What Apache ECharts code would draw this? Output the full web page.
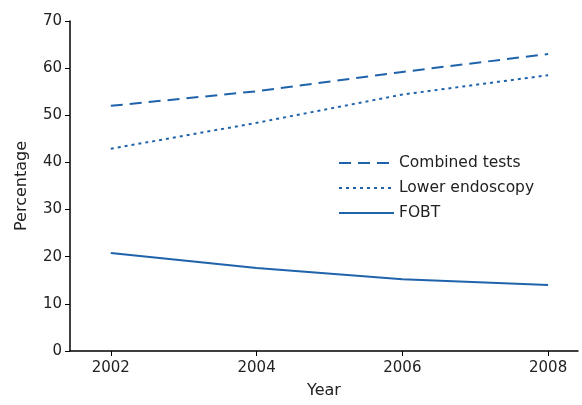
<!DOCTYPE html>
<html><head><meta charset="utf-8">
<script src="https://cdn.jsdelivr.net/npm/echarts@6/dist/echarts.min.js"></script>
<style>html,body{margin:0;padding:0;background:#fff}#c{width:582px;height:405px}</style>
</head><body><div id="c"></div>
<script>
const years = [2002, 2004, 2006, 2008];
const combined = [52, 55.1, 59.2, 63];
const endoscopy = [42.9, 48.4, 54.4, 58.5];
const fobt = [20.8, 17.6, 15.2, 14];

const blue = '#1f63aa';
const font = 'DejaVu Sans';
const chart = echarts.init(document.getElementById('c'));
function pts(v) { return years.map((y, i) => [y, v[i]]); }
function line(name, v, type) {
  return { name, type: 'line', data: pts(v), symbol: 'none', smooth: false,
    lineStyle: { color: blue, width: 2, type }, itemStyle: { color: blue } };
}
chart.setOption({
  animation: false,
  grid: { left: 70, right: 4, top: 21, bottom: 54 },
  legend: {
    left: 333, top: 150, orient: 'vertical', itemWidth: 55, itemHeight: 14, itemGap: 9,
    itemStyle: { color: 'transparent', borderWidth: 0 },
    textStyle: { fontFamily: font, fontSize: 15.5, color: '#222' },
    data: ['Combined tests', 'Lower endoscopy', 'FOBT']
  },
  xAxis: {
    type: 'value', min: 2001.44, max: 2008.41, name: 'Year', nameLocation: 'middle', nameGap: 32,
    nameTextStyle: { fontFamily: font, fontSize: 16, color: '#222' },
    splitLine: { show: false },
    axisLine: { lineStyle: { color: '#000', width: 1.5 } },
    axisTick: { customValues: years, length: 5, lineStyle: { color: '#000' } },
    axisLabel: { customValues: years, formatter: v => String(v), fontFamily: font, fontSize: 15, color: '#222', margin: 10 }
  },
  yAxis: {
    type: 'value', min: 0, max: 70, interval: 10, name: 'Percentage', nameLocation: 'middle', nameGap: 40,
    nameTextStyle: { fontFamily: font, fontSize: 16, color: '#222' },
    splitLine: { show: false },
    axisLine: { show: true, lineStyle: { color: '#000', width: 1.5 } },
    axisTick: { show: true, length: 5, lineStyle: { color: '#000' } },
    axisLabel: { fontFamily: font, fontSize: 15, color: '#222', margin: 8 }
  },
  series: [
    line('Combined tests', combined, [12, 7]),
    line('Lower endoscopy', endoscopy, [3, 4]),
    line('FOBT', fobt, 'solid')
  ]
});
</script></body></html>
